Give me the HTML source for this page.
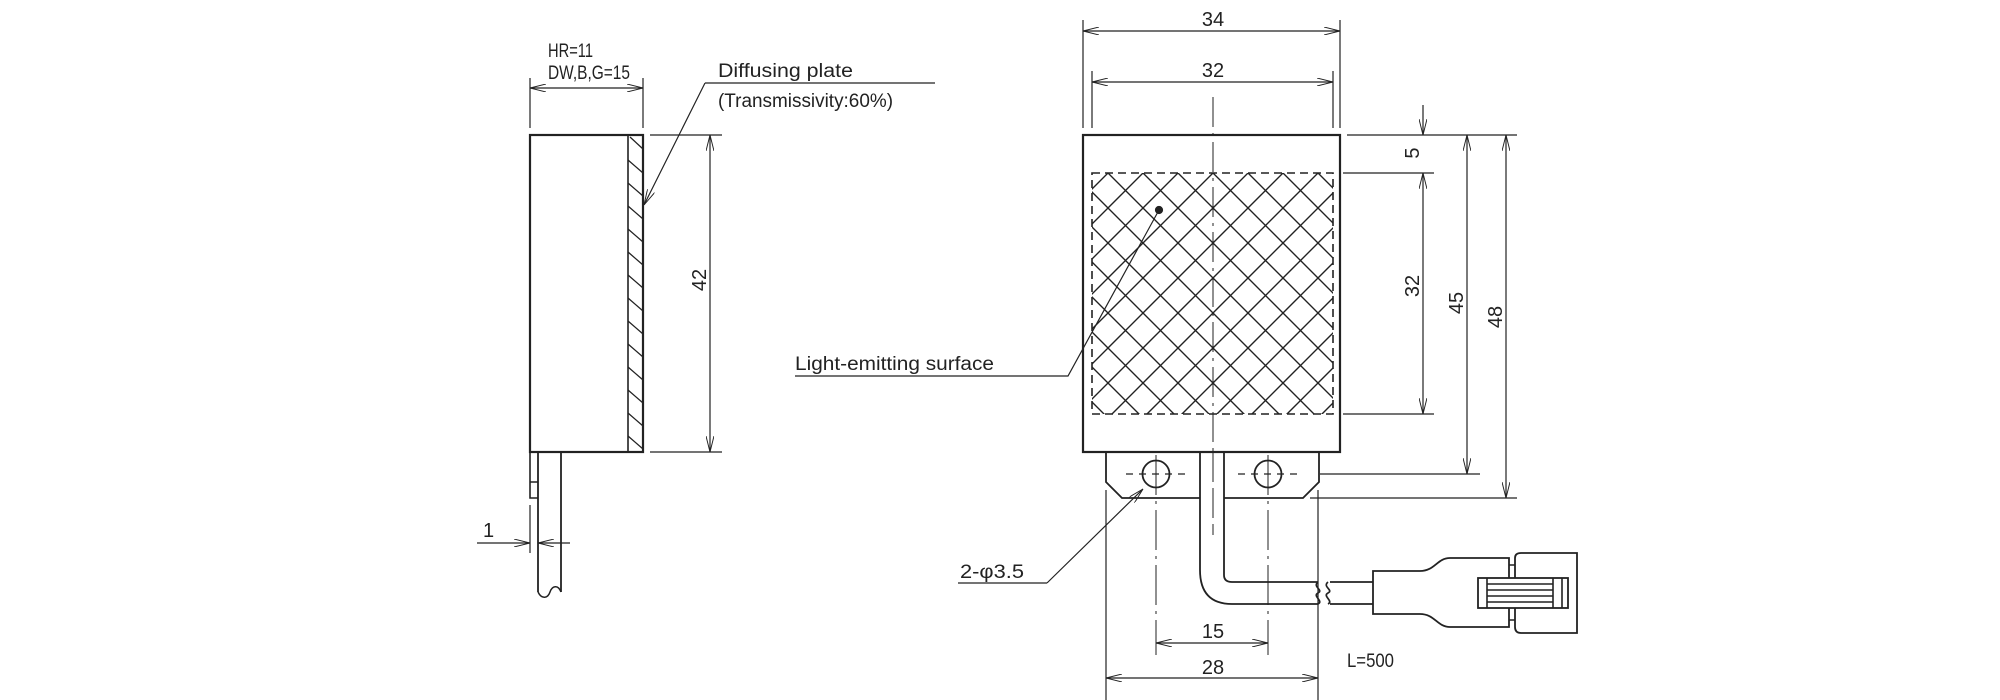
<!DOCTYPE html>
<html><head><meta charset="utf-8"><style>html,body{margin:0;padding:0;background:#fff}svg{display:block}</style></head><body>
<svg width="2000" height="700" viewBox="0 0 2000 700" xmlns="http://www.w3.org/2000/svg" font-family="'Liberation Sans', 'Noto Sans CJK JP', sans-serif" fill="none" stroke="#222">
<defs>
<pattern id="x" patternUnits="userSpaceOnUse" width="35" height="35" patternTransform="translate(23,-2)">
<path d="M0,0L35,35M35,0L0,35M-1,34L1,36M34,-1L36,1" stroke="#222" stroke-width="1.4"/>
</pattern>
<marker id="a" viewBox="0 0 20 10" refX="20" refY="5" markerWidth="16" markerHeight="8" orient="auto-start-reverse" markerUnits="userSpaceOnUse"><path d="M0,0L20,5L0,10" stroke="#222" stroke-width="1.2" fill="none"/></marker>
</defs>
<g stroke-width="1.2">
<rect x="530" y="135" width="113" height="317" stroke-width="2.2"/>
<line x1="628" y1="135" x2="628" y2="452" stroke-width="1.6"/>
<g stroke-width="1.3">
<path d="M630,137L643,149M628,160L643,173M628,183L643,196M628,206L643,219M628,229L643,242M628,252L643,265M628,275L643,288M628,298L643,311M628,321L643,334M628,344L643,357M628,367L643,380M628,390L643,403M628,413L643,426M628,436L643,449"/>
</g>
<path d="M538,452V592M561,452V592" stroke-width="1.8"/>
<path d="M538,592c4,8 10,6 12,0c2,-6 8,-8 11,0" stroke-width="1.5"/>
<path d="M530,452V498H538M530,482H538" stroke-width="1.6"/>
<path d="M530,128V78M643,128V78"/>
<line x1="530" y1="88" x2="643" y2="88" marker-start="url(#a)" marker-end="url(#a)"/>
<path d="M650,135H722M650,452H722"/>
<line x1="710" y1="135" x2="710" y2="452" marker-start="url(#a)" marker-end="url(#a)"/>
<path d="M530,505V553"/>
<line x1="477" y1="543" x2="530" y2="543" marker-end="url(#a)"/>
<line x1="570" y1="543" x2="538" y2="543" marker-end="url(#a)"/>
<path d="M935,83H705"/>
<line x1="705" y1="83" x2="644" y2="205" marker-end="url(#a)"/>
<rect x="1092" y="173" width="241" height="241" fill="url(#x)" stroke="none"/>
<rect x="1092" y="173" width="241" height="241" stroke-dasharray="8,5" stroke-width="1.6"/>
<rect x="1083" y="135" width="257" height="317" stroke-width="2.2"/>
<line x1="1213" y1="97" x2="1213" y2="452" stroke-dasharray="30,6,3,6" stroke-width="1"/>
<circle cx="1159" cy="210" r="3.5" fill="#222"/>
<path d="M795,376H1068L1159,210"/>
<path d="M1200,452H1106V482L1122,498H1200M1224,452H1319V482L1303,498H1224" stroke-width="1.8"/>
<circle cx="1156" cy="474" r="13.5" stroke-width="1.8"/>
<circle cx="1268" cy="474" r="13.5" stroke-width="1.8"/>
<path d="M1126,474H1186M1238,474H1300" stroke-dasharray="7,6"/>
<path d="M1156,455V655M1268,455V655" stroke-dasharray="40,6,3,6" stroke-width="1"/>
<line x1="1213" y1="452" x2="1213" y2="535" stroke-dasharray="30,6" stroke-width="1"/>
<path d="M1224,452V575Q1224,582 1232,582H1318M1200,452V570Q1200,604 1232,604H1318M1330,582H1373M1330,604H1373" stroke-width="1.8"/>
<path d="M1318,582c-6,5 6,8 0,11c-6,3 6,8 0,11M1328,582c-6,5 6,8 0,11c-6,3 6,8 0,11" stroke-width="1.7"/>
<path d="M1373,571V614H1420C1435,614 1437,627 1450,627H1509V558H1450C1437,558 1435,571 1420,571Z" stroke-width="1.8"/>
<path d="M1509,565H1515M1509,620H1515" stroke-width="1.5"/>
<path d="M1515,558Q1515,553 1521,553H1577V633H1521Q1515,633 1515,627Z" stroke-width="1.8"/>
<rect x="1478" y="578" width="90" height="30" fill="#fff" stroke-width="1.8"/>
<path d="M1487,578V608M1553,578V608M1562,578V608M1487,584H1553M1487,590H1553M1487,596H1553M1487,602H1553" stroke-width="1.6"/>
<path d="M1083,128V20M1340,128V20M1092,128V71M1333,128V71"/>
<line x1="1083" y1="31" x2="1340" y2="31" marker-start="url(#a)" marker-end="url(#a)"/>
<line x1="1092" y1="82" x2="1333" y2="82" marker-start="url(#a)" marker-end="url(#a)"/>
<path d="M1347,135H1517M1343,173H1434M1343,414H1434M1320,474H1480M1310,498H1517"/>
<line x1="1423" y1="105" x2="1423" y2="135" marker-end="url(#a)"/>
<line x1="1423" y1="173" x2="1423" y2="414" marker-start="url(#a)" marker-end="url(#a)"/>
<line x1="1467" y1="135" x2="1467" y2="474" marker-start="url(#a)" marker-end="url(#a)"/>
<line x1="1506" y1="135" x2="1506" y2="498" marker-start="url(#a)" marker-end="url(#a)"/>
<path d="M1106,490V700M1318,490V700"/>
<line x1="1156" y1="643" x2="1268" y2="643" marker-start="url(#a)" marker-end="url(#a)"/>
<line x1="1106" y1="678" x2="1318" y2="678" marker-start="url(#a)" marker-end="url(#a)"/>
<path d="M958,583H1047"/>
<line x1="1047" y1="583" x2="1143" y2="489" marker-end="url(#a)"/>
</g>
<g fill="#222" stroke="none" font-size="19">
<text x="548" y="57" textLength="45" lengthAdjust="spacingAndGlyphs">HR=11</text>
<text x="548" y="79" textLength="82" lengthAdjust="spacingAndGlyphs">DW,B,G=15</text>
<text x="718" y="77" textLength="135" lengthAdjust="spacingAndGlyphs">Diffusing plate</text>
<text x="718" y="107" textLength="175" lengthAdjust="spacingAndGlyphs">(Transmissivity:60%)</text>
<text x="483" y="537" font-size="20">1</text>
<text transform="translate(706,280) rotate(-90)" text-anchor="middle" font-size="20">42</text>
<text x="795" y="370" textLength="199" lengthAdjust="spacingAndGlyphs">Light-emitting surface</text>
<text x="960" y="578" textLength="64" lengthAdjust="spacingAndGlyphs">2-φ3.5</text>
<text x="1213" y="26" text-anchor="middle" font-size="20">34</text>
<text x="1213" y="77" text-anchor="middle" font-size="20">32</text>
<text transform="translate(1419,153) rotate(-90)" text-anchor="middle" font-size="20">5</text>
<text transform="translate(1419,286) rotate(-90)" text-anchor="middle" font-size="20">32</text>
<text transform="translate(1463,303) rotate(-90)" text-anchor="middle" font-size="20">45</text>
<text transform="translate(1502,317) rotate(-90)" text-anchor="middle" font-size="20">48</text>
<text x="1213" y="638" text-anchor="middle" font-size="20">15</text>
<text x="1213" y="674" text-anchor="middle" font-size="20">28</text>
<text x="1347" y="667" textLength="47" lengthAdjust="spacingAndGlyphs">L=500</text>
</g>
</svg>
</body></html>
